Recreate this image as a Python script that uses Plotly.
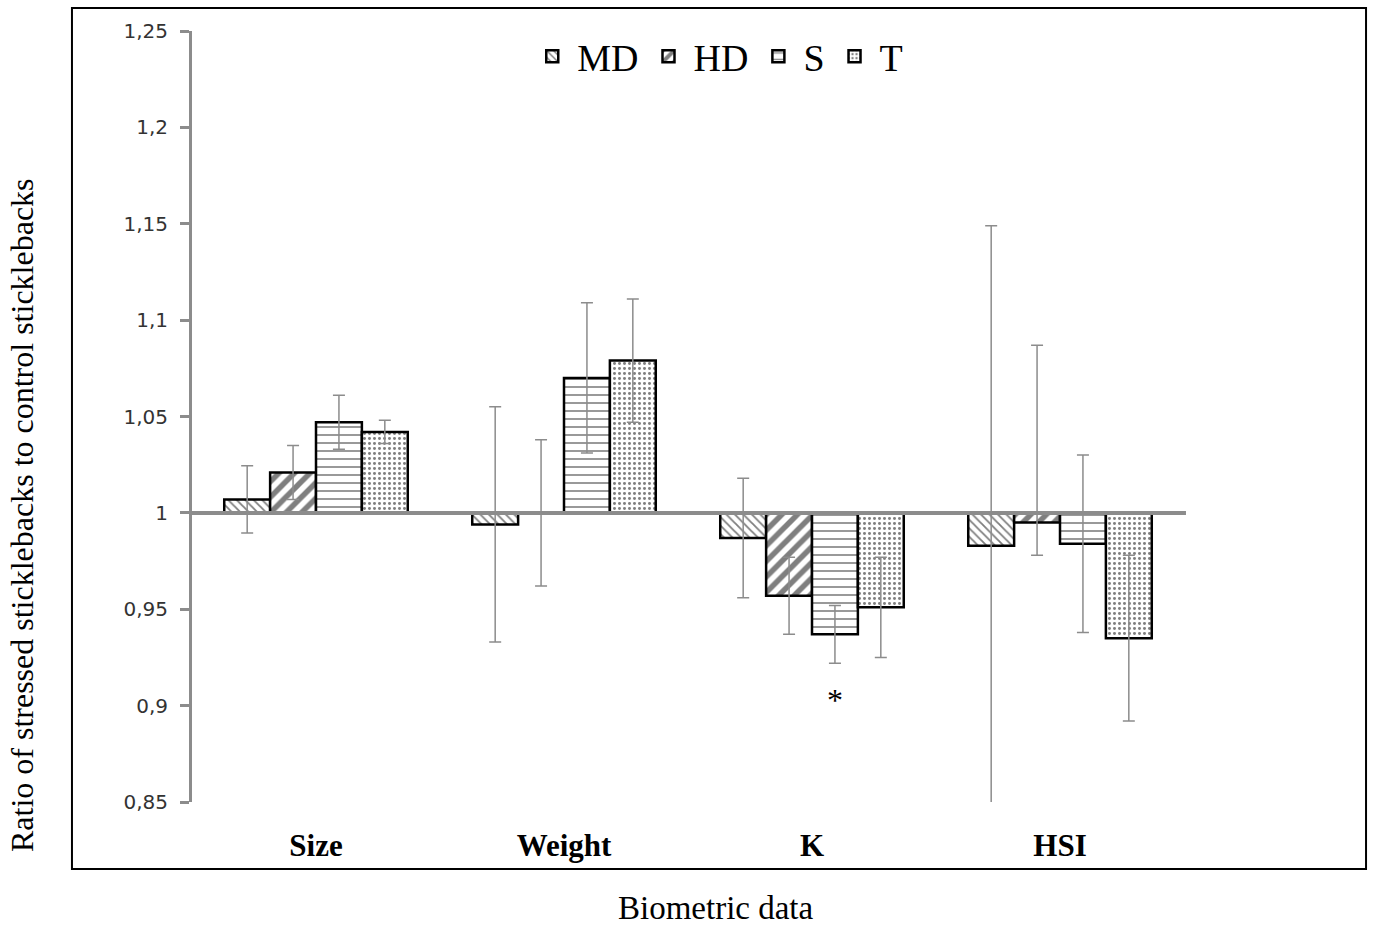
import plotly.graph_objects as go

categories = ["Size", "Weight", "K", "HSI"]
series_names = ["MD", "HD", "S", "T"]

md_values = [1.007, 0.994, 0.987, 0.983]
hd_values = [1.021, 1.000, 0.957, 0.995]
s_values = [1.047, 1.070, 0.937, 0.984]
t_values = [1.042, 1.079, 0.951, 0.935]

md_err = [0.0175, 0.061, 0.031, 0.166]
hd_err_plus = [0.014, 0.038, 0.020, 0.092]
hd_err_minus = [0.014, 0.038, 0.020, 0.017]
s_err = [0.014, 0.039, 0.015, 0.046]
t_err = [0.006, 0.032, 0.026, 0.043]

y_tickvals = [0.85, 0.9, 0.95, 1.0, 1.05, 1.1, 1.15, 1.2, 1.25]
y_ticktext = ["0,85", "0,9", "0,95", "1", "1,05", "1,1", "1,15", "1,2", "1,25"]

BASE = 1.0
GRAY = "#8c8c8c"
SERIF = "Liberation Serif, Times New Roman, serif"

patterns = {
    "MD": dict(shape="\\", size=6, solidity=0.3, fgcolor="black", bgcolor="white"),
    "HD": dict(shape="/", size=11, solidity=0.5, fgcolor="black", bgcolor="white"),
    "S": dict(shape="-", size=8, solidity=0.2, fgcolor="black", bgcolor="white"),
    "T": dict(shape=".", size=5, solidity=0.28, fgcolor="black", bgcolor="white"),
}

values = {"MD": md_values, "HD": hd_values, "S": s_values, "T": t_values}
errs_plus = {"MD": md_err, "HD": hd_err_plus, "S": s_err, "T": t_err}
errs_minus = {"MD": md_err, "HD": hd_err_minus, "S": s_err, "T": t_err}

fig = go.Figure()
for name in series_names:
    fig.add_trace(go.Bar(
        name=name,
        x=categories,
        y=[v - BASE for v in values[name]],
        base=BASE,
        marker=dict(color="white", line=dict(color="black", width=2.5),
                    pattern=patterns[name]),
        error_y=dict(type="data", symmetric=False,
                     array=errs_plus[name], arrayminus=errs_minus[name],
                     color=GRAY, thickness=1.5, width=6),
    ))

fig.add_shape(type="line", xref="paper", yref="y", x0=0, x1=1.002, y0=1, y1=1,
              line=dict(color=GRAY, width=4), layer="above")
fig.add_shape(type="rect", xref="paper", yref="paper",
              x0=-0.121, x1=1.1835, y0=-0.0869, y1=1.0298,
              line=dict(color="black", width=2), layer="above")

fig.add_annotation(x="K", xshift=23, y=0.903, yref="y", text="*", showarrow=False,
                   font=dict(family=SERIF, size=32, color="black"),
                   xanchor="center", yanchor="middle")
fig.add_annotation(xref="paper", yref="paper", x=-0.1715, y=0.372,
                   text="Ratio of stressed sticklebacks to control sticklebacks",
                   textangle=-90, showarrow=False, xanchor="center", yanchor="middle",
                   font=dict(family=SERIF, size=32, color="black"))
fig.add_annotation(xref="paper", yref="paper", x=0.528, y=-0.138,
                   text="Biometric data", showarrow=False,
                   xanchor="center", yanchor="middle",
                   font=dict(family=SERIF, size=33, color="black"))

fig.update_layout(
    width=1373, height=930,
    margin=dict(l=192, r=189, t=31, b=128),
    paper_bgcolor="white", plot_bgcolor="white",
    barmode="group", bargap=0.26, bargroupgap=0,
    showlegend=True,
    legend=dict(orientation="h", x=0.53, xanchor="center", y=0.967, yanchor="middle",
                font=dict(family=SERIF, size=38, color="black"), itemwidth=40,
                bgcolor="rgba(0,0,0,0)", traceorder="normal"),
    xaxis=dict(showline=False, ticks="", showgrid=False, zeroline=False,
               tickfont=dict(family=SERIF, size=31, color="black", weight="bold"),
               ticklabelstandoff=22),
    yaxis=dict(range=[0.85, 1.25], tickvals=y_tickvals, ticktext=y_ticktext,
               showline=True, linecolor=GRAY, linewidth=3,
               ticks="outside", ticklen=9, tickwidth=3, tickcolor=GRAY,
               showgrid=False, zeroline=False, ticklabelstandoff=8,
               tickfont=dict(family="DejaVu Sans, sans-serif", size=20, color="#333333")),
)

fig.write_html("out.html")
